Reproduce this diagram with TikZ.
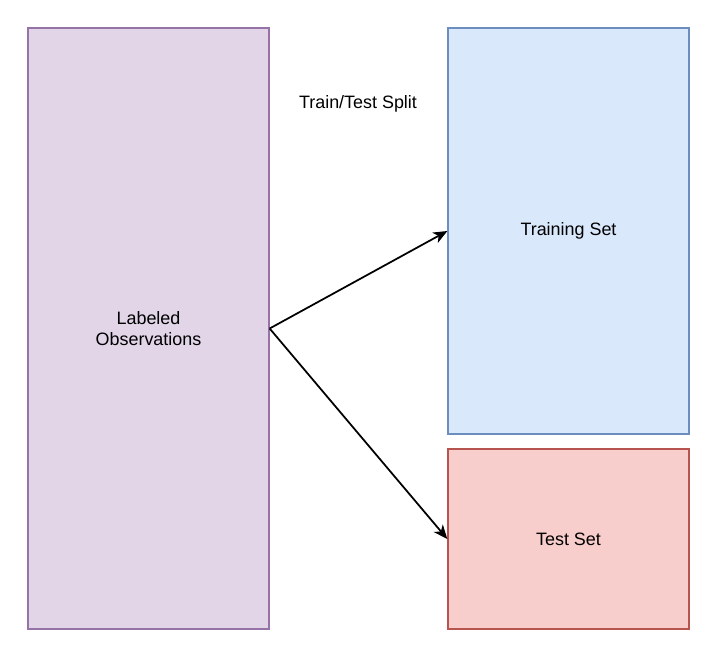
\documentclass[tikz,border=0pt]{standalone}
\usepackage{fontspec}
\setmainfont{Liberation Sans}
\usetikzlibrary{arrows.meta}
\definecolor{obsfill}{HTML}{E1D5E7}
\definecolor{obsline}{HTML}{9673A6}
\definecolor{trainfill}{HTML}{DAE8FC}
\definecolor{trainline}{HTML}{6C8EBF}
\definecolor{testfill}{HTML}{F8CECC}
\definecolor{testline}{HTML}{B85450}
\begin{document}
\begin{tikzpicture}[x=0.03cm, y=-0.03cm, font=\fontsize{15.3}{18.5}\selectfont]
        \tikzstyle{box} = [draw, rectangle, line width=1.1pt, align=center, minimum width=7.23cm, inner sep=0pt]
        \tikzstyle{arr} = [-{Stealth[length=12pt, width=10pt, inset=3.5pt]}, line width=1.5pt]

        \useasboundingbox (0,0) rectangle (724,667);

        \node (obs) [box, fill=obsfill, draw=obsline, minimum height=18.03cm] at (148.5,328.5) {Labeled\\Observations};
        \node (train) [box, fill=trainfill, draw=trainline, minimum height=12.18cm] at (568.5,231) {Training Set};
        \node (test) [box, fill=testfill, draw=testline, minimum height=5.4cm] at (568.5,539) {Test Set};
        \node (split) at (358,104) {Train/Test Split};

        \draw [arr] (obs.east) -- (train.west);
        \draw [arr] (obs.east) -- (test.west);

    \end{tikzpicture}
\end{document}
